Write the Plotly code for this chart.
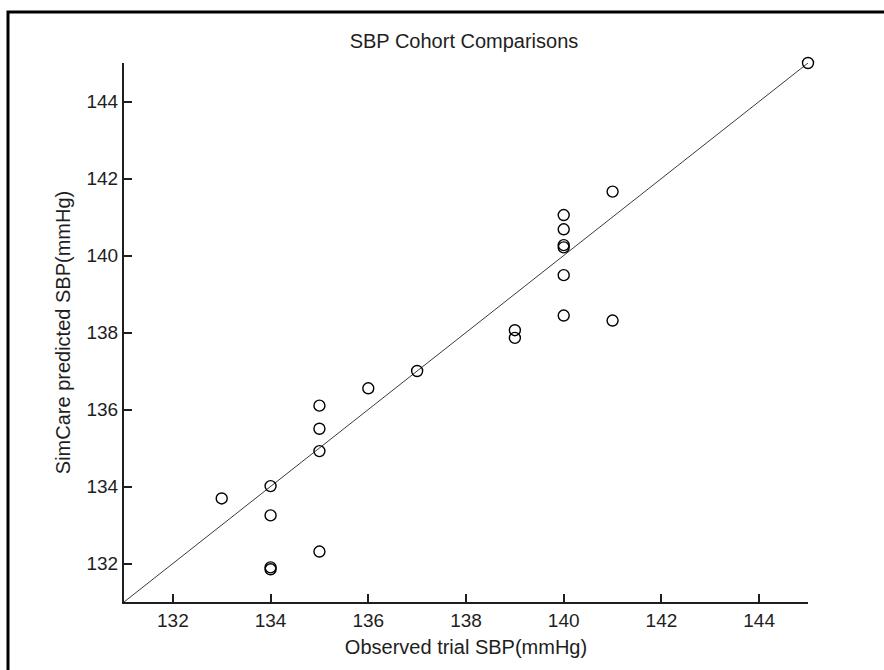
import plotly.graph_objects as go

# Observed trial SBP vs. SimCare predicted SBP (mmHg), one point per cohort
observed = [133, 134, 134, 134, 134, 135, 135, 135, 135, 136, 137, 139, 139,
            140, 140, 140, 140, 140, 140, 141, 141, 145]
predicted = [133.69, 134.01, 133.25, 131.85, 131.9, 136.1, 135.5, 134.92, 132.31,
             136.55, 137.0, 138.06, 137.86,
             141.05, 140.68, 140.27, 140.21, 139.49, 138.44, 141.66, 138.31, 145.0]

# Identity line across the axis range
axis_range = [131, 145]
tick_vals = [132, 134, 136, 138, 140, 142, 144]

font_family = "Liberation Sans, Arial, sans-serif"
ink = "#1e1e1e"

fig = go.Figure()

fig.add_trace(go.Scatter(
    x=axis_range, y=axis_range, mode="lines",
    line=dict(color="#3a3a3a", width=1),
    hoverinfo="skip", showlegend=False,
))

fig.add_trace(go.Scatter(
    x=observed, y=predicted, mode="markers",
    marker=dict(symbol="circle-open", size=11, color="black",
                line=dict(color="black", width=1.4)),
    cliponaxis=False, showlegend=False,
))

axis_common = dict(
    range=axis_range,
    tickvals=tick_vals,
    ticks="inside", ticklen=8, tickwidth=1.5, tickcolor=ink,
    showline=True, linecolor=ink, linewidth=2,
    showgrid=False, zeroline=False, mirror=False,
    tickfont=dict(family=font_family, size=19, color=ink),
)

fig.update_xaxes(
    **axis_common,
    title=dict(text="Observed trial SBP(mmHg)",
               font=dict(family=font_family, size=20, color=ink), standoff=10),
)
fig.update_yaxes(
    **axis_common,
    title=dict(text="SimCare predicted SBP(mmHg)",
               font=dict(family=font_family, size=20, color=ink), standoff=10),
)

# Figure frame along the top and left edges
plot_l, plot_r, plot_t, plot_b = 124, 808, 63, 602
pw, ph = plot_r - plot_l, plot_b - plot_t


def px_to_paper(px, py):
    return (px - plot_l) / pw, (plot_b - py) / ph


x0, y0 = px_to_paper(8, 672)
x1, y1 = px_to_paper(8, 12)
x2, y2 = px_to_paper(886, 12)
fig.add_shape(type="path", xref="paper", yref="paper",
              path=f"M {x0} {y0} L {x1} {y1} L {x2} {y2}",
              line=dict(color="black", width=3), layer="above")

fig.update_layout(
    width=884, height=670,
    margin=dict(l=plot_l, r=884 - plot_r, t=plot_t, b=670 - plot_b),
    paper_bgcolor="white", plot_bgcolor="white",
    title=dict(text="SBP Cohort Comparisons", x=464 / 884, xanchor="center",
               y=1 - 41 / 670, yanchor="middle",
               font=dict(family=font_family, size=20, color=ink)),
)

fig.write_html("out.html")
